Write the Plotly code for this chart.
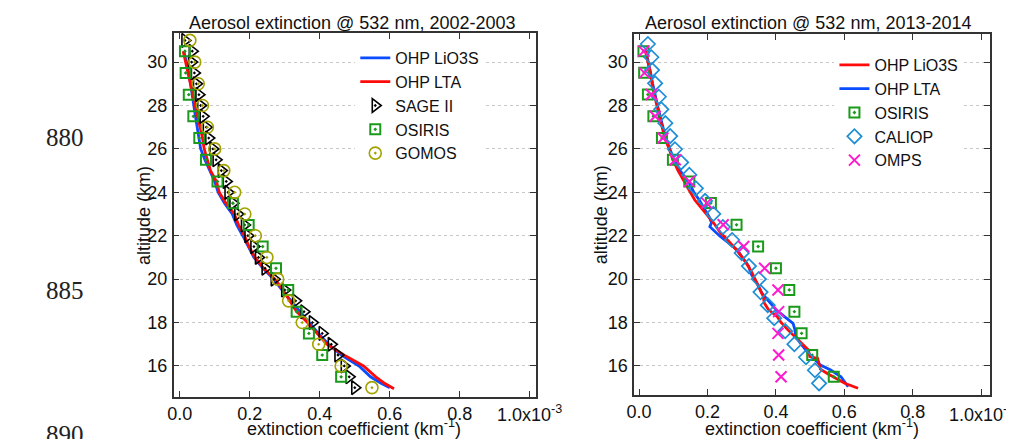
import plotly.graph_objects as go

# ---------------- Left panel: 2002-2003 ----------------
lio_02_alt = [30.5, 30.0, 29.5, 29.0, 28.5, 28.0, 27.5, 27.0, 26.5, 26.0, 25.5, 25.0, 24.5, 24.0,
              23.5, 23.0, 22.5, 22.0, 21.5, 21.0, 20.5, 20.0, 19.5, 19.0, 18.5, 18.0, 17.5, 17.0,
              16.5, 16.0, 15.5, 15.2, 15.0]
lio_02_ext = [0.012, 0.020, 0.026, 0.031, 0.035, 0.040, 0.045, 0.050, 0.055, 0.060, 0.072, 0.085,
              0.100, 0.110, 0.128, 0.150, 0.163, 0.180, 0.195, 0.212, 0.238, 0.268, 0.292, 0.318,
              0.342, 0.368, 0.396, 0.425, 0.462, 0.512, 0.545, 0.575, 0.600]
lta_02_alt = [30.5, 30.0, 29.5, 29.0, 28.5, 28.0, 27.5, 27.0, 26.5, 26.0, 25.5, 25.0, 24.5, 24.0,
              23.5, 23.0, 22.5, 22.0, 21.5, 21.0, 20.5, 20.0, 19.5, 19.0, 18.5, 18.0, 17.5, 17.0,
              16.5, 16.0, 15.5, 15.2, 14.95]
lta_02_ext = [0.010, 0.017, 0.024, 0.029, 0.036, 0.045, 0.050, 0.058, 0.065, 0.070, 0.078, 0.088,
              0.105, 0.113, 0.132, 0.156, 0.168, 0.185, 0.198, 0.215, 0.240, 0.272, 0.295, 0.314,
              0.334, 0.365, 0.393, 0.420, 0.470, 0.525, 0.560, 0.585, 0.612]
sage_alt = [31.0, 30.5, 30.0, 29.5, 29.0, 28.5, 28.0, 27.5, 27.0, 26.5, 26.0, 25.5, 25.0, 24.5,
            24.0, 23.5, 23.0, 22.5, 22.0, 21.5, 21.0, 20.5, 20.0, 19.5, 19.0, 18.5, 18.0, 17.5,
            17.0, 16.5, 16.0, 15.5, 15.0]
sage_ext = [0.015, 0.036, 0.034, 0.042, 0.048, 0.055, 0.060, 0.067, 0.076, 0.083, 0.095, 0.104,
            0.119, 0.133, 0.138, 0.152, 0.166, 0.185, 0.195, 0.212, 0.225, 0.244, 0.270, 0.300,
            0.331, 0.355, 0.379, 0.407, 0.433, 0.452, 0.470, 0.484, 0.500]
osiris_02_alt = [30.5, 29.5, 28.5, 27.5, 26.5, 25.5, 24.5, 23.5, 22.5, 21.5, 20.5, 19.5, 18.5,
                 17.5, 16.5, 15.5]
osiris_02_ext = [0.015, 0.017, 0.026, 0.039, 0.056, 0.075, 0.108, 0.152, 0.197, 0.237, 0.275,
                 0.310, 0.334, 0.369, 0.407, 0.461]
gomos_alt = [31, 30, 29, 28, 27, 26, 25, 24, 23, 22, 21, 20, 19, 18, 17, 16, 15]
gomos_ext = [0.029, 0.043, 0.053, 0.065, 0.079, 0.100, 0.126, 0.157, 0.186, 0.216, 0.249, 0.280,
             0.311, 0.350, 0.397, 0.461, 0.549]

# ---------------- Right panel: 2013-2014 ----------------
lio_13_alt = [30.55, 30.0, 29.5, 29.0, 28.5, 28.0, 27.5, 27.0, 26.5, 26.0, 25.5, 25.0, 24.5, 24.0,
              23.64, 23.2, 22.9, 22.57, 22.11, 21.95, 21.34, 20.73, 20.3, 20.1, 19.8, 19.5, 19.2,
              18.9, 18.6, 18.27, 18.0, 17.66, 17.2, 16.9, 16.73, 16.43, 16.35, 16.1, 15.85, 15.65,
              15.5, 15.2, 14.97]
lio_13_ext = [0.018, 0.027, 0.033, 0.038, 0.044, 0.052, 0.060, 0.068, 0.075, 0.088, 0.099, 0.114,
              0.133, 0.150, 0.163, 0.185, 0.200, 0.219, 0.239, 0.250, 0.285, 0.314, 0.330, 0.336,
              0.346, 0.355, 0.363, 0.366, 0.378, 0.404, 0.415, 0.435, 0.465, 0.485, 0.495, 0.499,
              0.522, 0.526, 0.530, 0.550, 0.567, 0.601, 0.640]
lta_13_alt = [30.5, 30.0, 29.5, 29.0, 28.5, 28.0, 27.5, 27.0, 26.5, 26.0, 25.5, 25.0, 24.41, 24.0,
              23.64, 22.87, 22.6, 22.41, 22.2, 22.0, 21.34, 20.57, 20.27, 19.8, 19.35, 18.89, 18.6,
              18.27, 17.96, 17.7, 17.35, 17.04, 16.58, 16.04, 15.81, 15.5, 15.04]
lta_13_ext = [0.020, 0.028, 0.034, 0.040, 0.046, 0.054, 0.062, 0.070, 0.078, 0.090, 0.102, 0.120,
              0.147, 0.160, 0.176, 0.205, 0.212, 0.207, 0.222, 0.235, 0.287, 0.321, 0.326, 0.345,
              0.359, 0.385, 0.400, 0.425, 0.450, 0.455, 0.458, 0.472, 0.495, 0.530, 0.560, 0.590,
              0.611]
osiris_13_alt = [30.5, 29.5, 28.5, 27.5, 26.5, 25.5, 24.5, 23.5, 22.5, 21.5, 20.5, 19.5, 18.5,
                 17.5, 16.5, 15.5]
osiris_13_ext = [0.013, 0.015, 0.026, 0.042, 0.067, 0.099, 0.147, 0.210, 0.285, 0.348, 0.400,
                 0.439, 0.454, 0.475, 0.506, 0.569]
caliop_alt = [30.83, 30.22, 29.63, 29.02, 28.4, 27.82, 27.18, 26.59, 25.98, 25.38, 24.8, 24.18,
              23.6, 23.0, 22.4, 21.8, 21.2, 20.6, 20.0, 19.4, 18.8, 18.2, 17.6, 17.0, 16.4, 15.8,
              15.2]
caliop_ext = [0.026, 0.036, 0.038, 0.047, 0.058, 0.065, 0.077, 0.091, 0.105, 0.123, 0.147, 0.166,
              0.193, 0.217, 0.245, 0.272, 0.300, 0.321, 0.350, 0.355, 0.376, 0.395, 0.427, 0.454,
              0.488, 0.514, 0.526]
omps_alt = [30.5, 29.5, 28.5, 27.5, 26.5, 25.5, 24.5, 23.5, 22.5, 21.5, 20.5, 19.5, 18.5, 17.5,
            16.5, 15.5]
omps_ext = [0.014, 0.016, 0.036, 0.047, 0.070, 0.106, 0.147, 0.198, 0.246, 0.306, 0.367, 0.406,
            0.408, 0.406, 0.408, 0.415]

x_tickvals = [0.0, 0.2, 0.4, 0.6, 0.8, 1.0]
x_ticktext = ["0.0", "0.2", "0.4", "0.6", "0.8", " "]
y_tickvals = [16, 18, 20, 22, 24, 26, 28, 30]
titles = ["Aerosol extinction @ 532 nm, 2002-2003", "Aerosol extinction @ 532 nm, 2013-2014"]
line_numbers = ["880", "885", "890"]

BLUE = "#0a4cff"
RED = "#ff0a0a"
GREEN = "#1a9a1a"
OLIVE = "#a3a300"
CYAN = "#1e8fd6"
MAGENTA = "#ff1ad0"
FONT = "Liberation Sans, Arial, sans-serif"

OFF = 8                      # page body margin of the html page
W, H = 1014 - OFF, 439 - OFF
TOP, BOT = 33 - OFF, 397 - OFF   # figure-pixel positions of the left plot frame
PH = BOT - TOP


def px(x):                   # reference page x -> paper x
    return (x - OFF) / W


def py(y):                   # reference page y -> paper y
    return (BOT - (y - OFF)) / PH


fig = go.Figure()

# Left panel traces
fig.add_trace(go.Scatter(x=lio_02_ext, y=lio_02_alt, mode="lines", name="OHP LiO3S",
                         line=dict(color=BLUE, width=2.8), xaxis="x", yaxis="y", legend="legend"))
fig.add_trace(go.Scatter(x=lta_02_ext, y=lta_02_alt, mode="lines", name="OHP LTA",
                         line=dict(color=RED, width=2.8), xaxis="x", yaxis="y", legend="legend"))
fig.add_trace(go.Scatter(x=sage_ext, y=sage_alt, mode="markers", name="SAGE II",
                         marker=dict(symbol="triangle-right-open-dot", size=12, color="black",
                                     line=dict(width=1.6, color="black")),
                         xaxis="x", yaxis="y", legend="legend"))
fig.add_trace(go.Scatter(x=osiris_02_ext, y=osiris_02_alt, mode="markers", name="OSIRIS",
                         marker=dict(symbol="square-open-dot", size=10, color=GREEN,
                                     line=dict(width=2, color=GREEN)),
                         xaxis="x", yaxis="y", legend="legend"))
fig.add_trace(go.Scatter(x=gomos_ext, y=gomos_alt, mode="markers", name="GOMOS",
                         marker=dict(symbol="circle-open-dot", size=12, color=OLIVE,
                                     line=dict(width=1.6, color=OLIVE)),
                         xaxis="x", yaxis="y", legend="legend"))

# Right panel traces
fig.add_trace(go.Scatter(x=lta_13_ext, y=lta_13_alt, mode="lines", name="OHP LTA",
                         line=dict(color=BLUE, width=2.8), xaxis="x2", yaxis="y2",
                         legend="legend2", legendrank=2))
fig.add_trace(go.Scatter(x=lio_13_ext, y=lio_13_alt, mode="lines", name="OHP LiO3S",
                         line=dict(color=RED, width=2.8), xaxis="x2", yaxis="y2",
                         legend="legend2", legendrank=1))
fig.add_trace(go.Scatter(x=osiris_13_ext, y=osiris_13_alt, mode="markers", name="OSIRIS",
                         marker=dict(symbol="square-open-dot", size=10, color=GREEN,
                                     line=dict(width=2, color=GREEN)),
                         xaxis="x2", yaxis="y2", legend="legend2", legendrank=3))
fig.add_trace(go.Scatter(x=caliop_ext, y=caliop_alt, mode="markers", name="CALIOP",
                         marker=dict(symbol="diamond-open", size=11, color=CYAN,
                                     line=dict(width=1.7, color=CYAN)),
                         xaxis="x2", yaxis="y2", legend="legend2", legendrank=4))
fig.add_trace(go.Scatter(x=omps_ext, y=omps_alt, mode="markers", name="OMPS",
                         marker=dict(symbol="x-thin", size=11, color=MAGENTA,
                                     line=dict(width=2, color=MAGENTA)),
                         xaxis="x2", yaxis="y2", legend="legend2", legendrank=5))

axis_common = dict(showline=True, linecolor="#333333", linewidth=1.5, mirror="ticks",
                   ticks="inside", ticklen=6, tickwidth=1.3, tickcolor="#333333",
                   tickfont=dict(family=FONT, size=18, color="#111111"), zeroline=False)

fig.update_layout(
    width=W, height=H,
    margin=dict(l=0, r=0, t=TOP, b=H - BOT, pad=0),
    paper_bgcolor="white", plot_bgcolor="white",
    font=dict(family=FONT, size=18, color="#111111"),
    xaxis=dict(domain=[px(167), px(532)], range=[-0.017, 1.017], tickvals=x_tickvals,
               ticktext=x_ticktext, showgrid=False, anchor="y", ticklabelstandoff=0,
               **axis_common),
    yaxis=dict(domain=[0, 1], range=[14.57, 31.34], tickvals=y_tickvals, anchor="x",
               showgrid=True, gridcolor="#c8c8c8", griddash="dot", gridwidth=1,
               ticklabelstandoff=1, **axis_common),
    xaxis2=dict(domain=[px(631), px(990)], range=[-0.0145, 1.026], tickvals=x_tickvals,
                ticktext=x_ticktext, showgrid=False, anchor="y2", ticklabelstandoff=0,
                **axis_common),
    yaxis2=dict(domain=[py(395), py(34)], range=[14.66, 31.29], tickvals=y_tickvals,
                anchor="x2", showgrid=True, gridcolor="#c8c8c8", griddash="dot", gridwidth=1,
                ticklabelstandoff=1, **axis_common),
    legend=dict(x=px(350), y=py(41), xref="paper", yref="paper", xanchor="left",
                yanchor="top", bgcolor="white", borderwidth=0, tracegroupgap=0,
                font=dict(family=FONT, size=16, color="#111111")),
    legend2=dict(x=px(833), y=py(48), xref="paper", yref="paper", xanchor="left",
                 yanchor="top", bgcolor="white", borderwidth=0, tracegroupgap=0,
                 traceorder="normal", font=dict(family=FONT, size=16, color="#111111")),
    showlegend=True,
)

ann = []
# panel titles
ann.append(dict(text=titles[0], x=px(347), y=py(23), xref="paper", yref="paper",
                showarrow=False, xanchor="center", yanchor="middle",
                font=dict(family=FONT, size=18, color="#111111")))
ann.append(dict(text=titles[1], x=px(806), y=py(23), xref="paper", yref="paper",
                showarrow=False, xanchor="center", yanchor="middle",
                font=dict(family=FONT, size=18, color="#111111")))
# axis titles
for cx in (349, 810):
    ann.append(dict(text="extinction coefficient (km<sup>-1</sup>)", x=px(cx), y=py(428),
                    xref="paper", yref="paper", showarrow=False, xanchor="center",
                    yanchor="middle", font=dict(family=FONT, size=18, color="#111111")))
for cx in (137, 598):
    ann.append(dict(text="altitude (km)", x=px(cx), y=py(215), xref="paper", yref="paper",
                    showarrow=False, xanchor="center", yanchor="middle", textangle=-90,
                    font=dict(family=FONT, size=18, color="#111111")))
# multiplier labels
for xr in ("x", "x2"):
    ann.append(dict(text="1.0x10<sup>-3</sup>", x=1.0, y=py(413), xref=xr, yref="paper",
                    showarrow=False, xanchor="center", yanchor="middle",
                    font=dict(family=FONT, size=18, color="#111111")))
# manuscript line numbers
for txt, yy in zip(line_numbers, (137, 290, 434)):
    ann.append(dict(text=txt, x=px(57), y=py(yy), xref="paper", yref="paper",
                    showarrow=False, xanchor="center", yanchor="middle",
                    font=dict(family="Liberation Serif, Times New Roman, serif", size=25,
                              color="#222222")))
fig.update_layout(annotations=ann)

fig.write_html("out.html")
